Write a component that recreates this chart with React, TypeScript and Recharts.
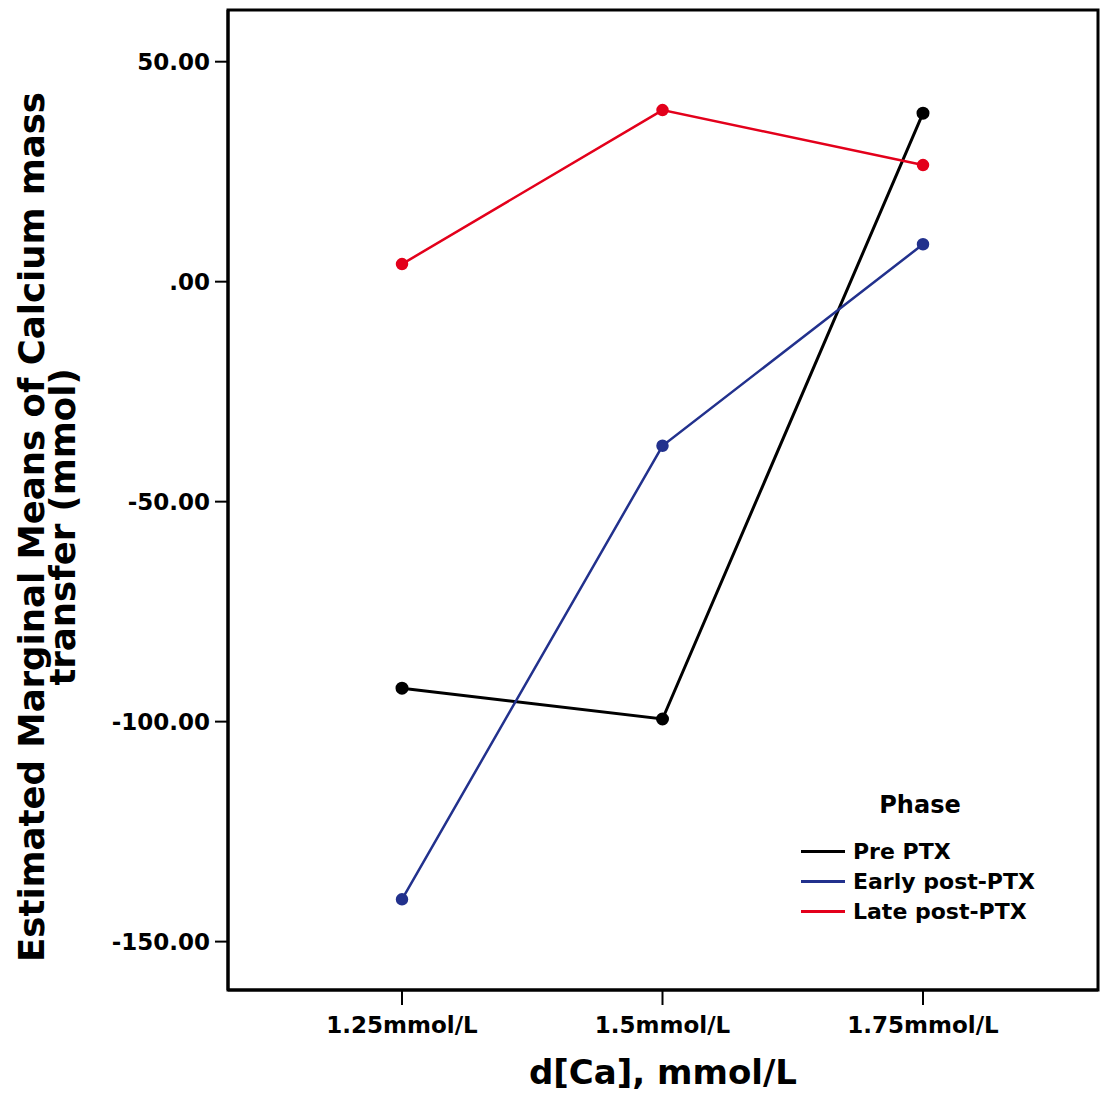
import { Legend, Line, LineChart, ReferenceArea, XAxis, YAxis } from "recharts";

const doses = ["1.25mmol/L", "1.5mmol/L", "1.75mmol/L"];
const prePtx = [-92.4, -99.4, 38.3];
const earlyPostPtx = [-140.4, -37.3, 8.5];
const latePostPtx = [4.0, 39.0, 26.5];
const phases = ["Pre PTX", "Early post-PTX", "Late post-PTX"];
const yTicks = [50, 0, -50, -100, -150];
const xTicks = [1, 2, 3];
const Y_MIN = -161;
const Y_MAX = 61.75;

const FONT = '"DejaVu Sans", sans-serif';
const BLACK = "#000000";
const BLUE = "#22318d";
const RED = "#e3001b";

// categories sit at positions 1..3 on a numeric axis so the frame can span the plot
const data = doses.map((dose, i) => ({
  pos: i + 1,
  dose,
  pre: prePtx[i],
  early: earlyPostPtx[i],
  late: latePostPtx[i],
}));

function formatTick(v: number): string {
  if (v === 0) return ".00";
  return v.toFixed(2);
}

function YTitle({ viewBox }: any) {
  const cy = (viewBox?.y ?? 10) + 517;
  return (
    <g fontFamily={FONT} fontWeight="bold" fontSize={35.5} fill="#000">
      <text x={44} y={cy} textAnchor="middle" transform={`rotate(-90, 44, ${cy})`}>
        Estimated Marginal Means of Calcium mass
      </text>
      <text x={75} y={cy} textAnchor="middle" transform={`rotate(-90, 75, ${cy})`}>
        transfer (mmol)
      </text>
    </g>
  );
}

function XTitle({ viewBox }: any) {
  const cx = viewBox.x + viewBox.width / 2;
  return (
    <text
      x={cx}
      y={viewBox.y + 94}
      textAnchor="middle"
      fontFamily={FONT}
      fontWeight="bold"
      fontSize={34}
      fill="#000"
    >
      d[Ca], mmol/L
    </text>
  );
}

function PhaseLegend({ payload }: any) {
  const items = [...(payload ?? [])].sort(
    (a: any, b: any) => phases.indexOf(a.value) - phases.indexOf(b.value)
  );
  return (
    <div style={{ fontFamily: FONT, color: "#000" }}>
      <div
        style={{
          textAlign: "center",
          fontWeight: "bold",
          fontSize: 24,
          lineHeight: "30px",
          marginBottom: 16,
          marginTop: 3,
        }}
      >
        Phase
      </div>
      {items.map((entry: any) => (
        <div
          key={entry.value}
          style={{ display: "flex", alignItems: "center", height: 30, marginLeft: 6 }}
        >
          <span
            style={{
              display: "inline-block",
              width: 44,
              height: 3,
              background: entry.color,
              marginRight: 8,
            }}
          />
          <span style={{ fontSize: 22, fontWeight: "bold" }}>{entry.value}</span>
        </div>
      ))}
    </div>
  );
}

export default function App() {
  return (
    <div style={{ position: "absolute", left: 0, top: 0, background: "#fff" }}>
      <LineChart
        width={1104}
        height={1095}
        data={data}
        margin={{ top: 10, right: 6, left: 0, bottom: 0 }}
      >
        <XAxis
          dataKey="pos"
          type="number"
          domain={[1 - 174 / 260.5, 3 + 175 / 260.5]}
          ticks={xTicks}
          tickFormatter={(v: number) => doses[v - 1] ?? ""}
          height={105}
          axisLine={{ stroke: BLACK, strokeWidth: 3 }}
          tickLine={{ stroke: BLACK, strokeWidth: 2 }}
          tickSize={15}
          tickMargin={12}
          tick={{ fill: BLACK, fontSize: 23, fontWeight: "bold", fontFamily: FONT }}
          label={<XTitle />}
        />
        <YAxis
          type="number"
          domain={[Y_MIN, Y_MAX]}
          ticks={yTicks}
          width={228}
          axisLine={{ stroke: BLACK, strokeWidth: 3 }}
          tickLine={{ stroke: BLACK, strokeWidth: 2 }}
          tickSize={13}
          tickMargin={5}
          tickFormatter={formatTick}
          tick={{ fill: BLACK, fontSize: 23, fontWeight: "bold", fontFamily: FONT }}
          label={<YTitle />}
        />
        <ReferenceArea
          y1={Y_MIN}
          y2={Y_MAX}
          fill="none"
          fillOpacity={0}
          stroke={BLACK}
          strokeWidth={3}
          ifOverflow="visible"
        />
        <Legend
          layout="horizontal"
          verticalAlign="middle"
          align="center"
          content={<PhaseLegend />}
          wrapperStyle={{ left: 795, top: 787, width: 250 }}
        />
        <Line
          dataKey="pre"
          name="Pre PTX"
          stroke={BLACK}
          strokeWidth={3}
          dot={{ r: 5, fill: BLACK, stroke: BLACK }}
          isAnimationActive={false}
        />
        <Line
          dataKey="early"
          name="Early post-PTX"
          stroke={BLUE}
          strokeWidth={2.5}
          dot={{ r: 5, fill: BLUE, stroke: BLUE }}
          isAnimationActive={false}
        />
        <Line
          dataKey="late"
          name="Late post-PTX"
          stroke={RED}
          strokeWidth={2.5}
          dot={{ r: 5, fill: RED, stroke: RED }}
          isAnimationActive={false}
        />
      </LineChart>
    </div>
  );
}
